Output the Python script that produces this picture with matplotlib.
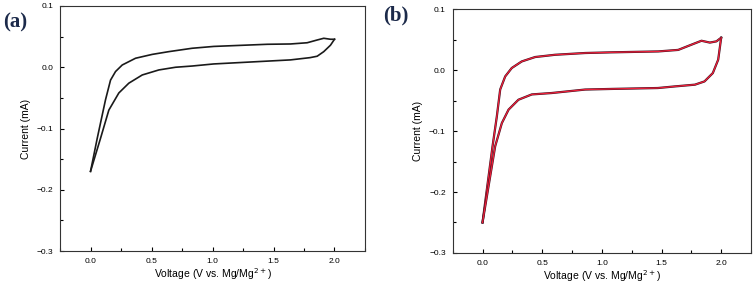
import numpy as np
import matplotlib.pyplot as plt
from matplotlib.ticker import MultipleLocator

plt.rcParams['font.family'] = ['Liberation Sans', 'DejaVu Sans']

# panel (a): forward (upper) and reverse (lower) scans
a_up_v = [0.0, 0.055, 0.123, 0.164, 0.205, 0.26, 0.369, 0.506, 0.642, 0.833, 1.01, 1.45,
          1.639, 1.776, 1.858, 1.912, 1.967, 2.0]
a_up_i = [-0.170, -0.116, -0.053, -0.021, -0.007, 0.0037, 0.0147, 0.021, 0.0255, 0.031, 0.034, 0.0375,
          0.038, 0.040, 0.0445, 0.0473, 0.0457, 0.0457]
a_dn_v = [2.0, 1.967, 1.912, 1.858, 1.80, 1.639, 1.01, 0.833, 0.697, 0.56, 0.424, 0.314,
          0.232, 0.15, 0.082, 0.0]
a_dn_i = [0.0457, 0.036, 0.0255, 0.018, 0.0157, 0.012, 0.0054, 0.002, 0.0, -0.0044, -0.0126, -0.026,
          -0.042, -0.070, -0.116, -0.170]

# panel (b)
b_up_v = [0.0, 0.084, 0.12, 0.148, 0.19, 0.245, 0.329, 0.441, 0.608, 0.86, 1.08, 1.473,
          1.64, 1.75, 1.835, 1.905, 1.96, 2.0]
b_up_i = [-0.250, -0.125, -0.076, -0.032, -0.0105, 0.0033, 0.0141, 0.0213, 0.025, 0.0279, 0.029, 0.0305,
          0.033, 0.0415, 0.048, 0.045, 0.047, 0.053]
b_dn_v = [2.0, 1.975, 1.93, 1.86, 1.78, 1.61, 1.47, 1.08, 0.86, 0.58, 0.413, 0.301,
          0.218, 0.162, 0.106, 0.0]
b_dn_i = [0.053, 0.017, -0.005, -0.0187, -0.024, -0.0269, -0.0295, -0.031, -0.032, -0.0377, -0.040, -0.0487,
          -0.065, -0.087, -0.125, -0.250]

fig = plt.figure(figsize=(7.56, 2.87), dpi=100)
ax1 = fig.add_axes([0.0794, 0.1254, 0.4034, 0.8537])
ax2 = fig.add_axes([0.5988, 0.1185, 0.3946, 0.8500])

ax1.plot(a_up_v, a_up_i, color='#1a1a1a', lw=1.2)
ax1.plot(a_dn_v, a_dn_i, color='#1a1a1a', lw=1.2)

for v, i in [(b_up_v, b_up_i), (b_dn_v, b_dn_i)]:
    ax2.plot(v, i, color='#3a1020', lw=1.6)
    ax2.plot(v, i, color='#f0203a', lw=0.9)

for ax in (ax1, ax2):
    ax.set_xlim(-0.25, 2.25)
    ax.set_ylim(-0.3, 0.1)
    ax.xaxis.set_major_locator(MultipleLocator(0.5))
    ax.xaxis.set_minor_locator(MultipleLocator(0.25))
    ax.yaxis.set_major_locator(MultipleLocator(0.1))
    ax.yaxis.set_minor_locator(MultipleLocator(0.05))
    ax.tick_params(which='both', direction='in', labelsize=6, width=0.8, pad=5)
    ax.tick_params(which='major', length=3)
    ax.tick_params(which='minor', length=2)
    for s in ax.spines.values():
        s.set_linewidth(0.8)
        s.set_color('#333333')
    ax.set_xlabel('Voltage (V vs. Mg/Mg$^{2+}$)', fontsize=7.5, labelpad=1)
    ax.set_ylabel('Current (mA)', fontsize=7.5, labelpad=4)

fig.text(0.004, 0.905, '(a)', fontsize=15, fontweight='bold', family='Liberation Serif', color='#1c2a4a')
fig.text(0.507, 0.93, '(b)', fontsize=15, fontweight='bold', family='Liberation Serif', color='#1c2a4a')

fig.savefig('out.png', dpi=100)
